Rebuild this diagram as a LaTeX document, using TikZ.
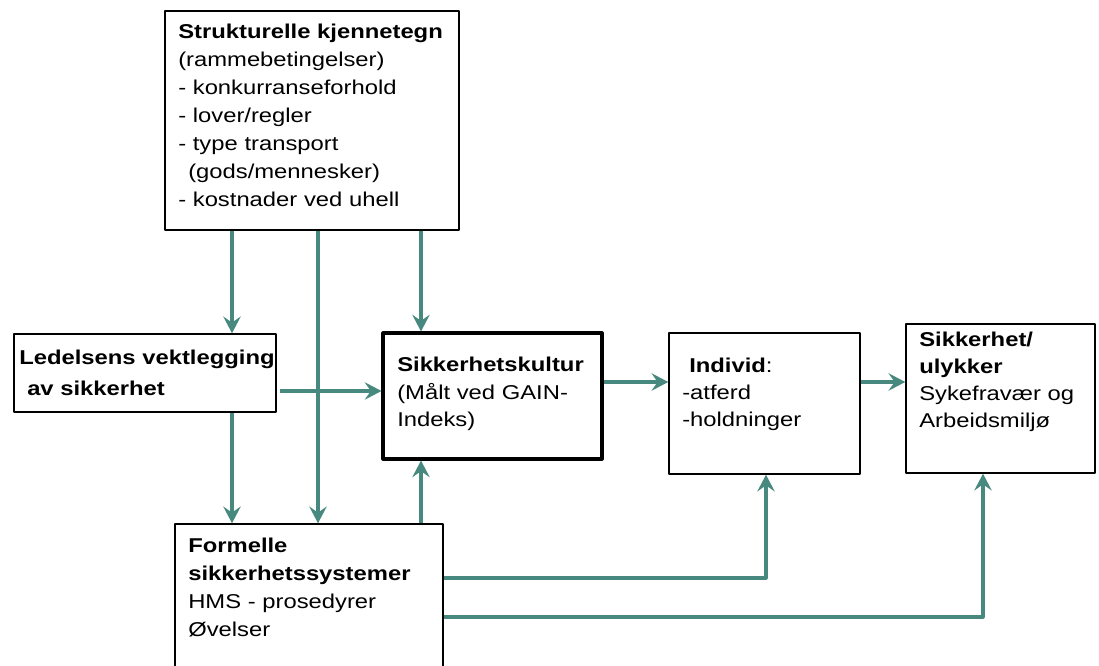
\documentclass[tikz,border=0pt]{standalone}
\usepackage{fontspec}
\setmainfont{Liberation Sans}[FakeStretch=1.19]
\usetikzlibrary{arrows.meta,fit}
\definecolor{pilgronn}{RGB}{72,137,127}

\begin{document}
\begin{tikzpicture}[line join=round,>={Stealth[length=12.5pt,width=13pt,inset=4.5pt]},x=0.75pt,y=-0.75pt,
  boks/.style={draw=black,line width=1.1pt,inner sep=0pt},
  tekst/.style={anchor=base west,inner sep=0pt,text width=230pt,align=left,font=\fontsize{15pt}{21pt}\selectfont},
  pil/.style={->,draw=pilgronn,line width=2.4pt}]

\useasboundingbox (0,0) rectangle (1099,666);

% boksene
\node[boks,fit={(165,11) (459,230)}] (strukt) {};
\node[boks,fit={(14,334) (276,412)}] (ledelse) {};
\node[boks,line width=2.3pt,fit={(383,333) (602,459)}] (kultur) {};
\node[boks,fit={(669,333) (860,474)}] (individ) {};
\node[boks,fit={(906,324) (1095,473)}] (sikker) {};
\node[boks,fit={(175,524) (443,672)}] (formell) {};

% tekst
\node[tekst] (strukt-t) at (178,39) {\textbf{Strukturelle kjennetegn}\\(rammebetingelser)\\- konkurranseforhold\\- lover/regler\\- type transport\\\hspace{7.5pt}(gods/mennesker)\\- kostnader ved uhell};
\node[tekst,font=\fontsize{15pt}{22.5pt}\selectfont] (ledelse-t) at (19,365) {\textbf{Ledelsens vektlegging}\\\hspace{6pt}\textbf{av sikkerhet}};
\node[tekst,font=\fontsize{15pt}{20.6pt}\selectfont] (kultur-t) at (397,372) {\textbf{Sikkerhetskultur}\\(Målt ved GAIN-\\Indeks)};
\node[tekst,font=\fontsize{15pt}{20.25pt}\selectfont] (individ-t) at (682,373) {\hspace{5.25pt}\textbf{Individ}:\\-atferd\\-holdninger};
\node[tekst,font=\fontsize{15pt}{20.25pt}\selectfont] (sikker-t) at (919,347) {\textbf{Sikkerhet/}\\\textbf{ulykker}\\Sykefravær og\\Arbeidsmiljø};
\node[tekst] (formell-t) at (188,552) {\textbf{Formelle}\\\textbf{sikkerhetssystemer}\\HMS - prosedyrer\\Øvelser};

% hjelpelinjer for pilene
\coordinate (k1) at (232,0);
\coordinate (k2) at (318,0);
\coordinate (k3) at (421,0);
\coordinate (k4) at (766,0);
\coordinate (k5) at (983,0);
\coordinate (r1) at (0,391);
\coordinate (r2) at (0,382);
\coordinate (r3) at (0,578);
\coordinate (r4) at (0,617);

% piler
\draw[pil] (strukt.south -| k1) -- (ledelse.north -| k1);
\draw[pil] (strukt.south -| k2) -- (formell.north -| k2);
\draw[pil] (strukt.south -| k3) -- (kultur.north -| k3);
\draw[pil] (ledelse.south -| k1) -- (formell.north -| k1);
\draw[pil] ([xshift=2.25pt]ledelse.east |- r1) -- (kultur.west |- r1);
\draw[pil] (formell.north -| k3) -- (kultur.south -| k3);
\draw[pil] (kultur.east |- r2) -- (individ.west |- r2);
\draw[pil] (individ.east |- r2) -- (sikker.west |- r2);
\draw[pil] (formell.east |- r3) -| (individ.south -| k4);
\draw[pil] (formell.east |- r4) -| (sikker.south -| k5);
\end{tikzpicture}
\end{document}
